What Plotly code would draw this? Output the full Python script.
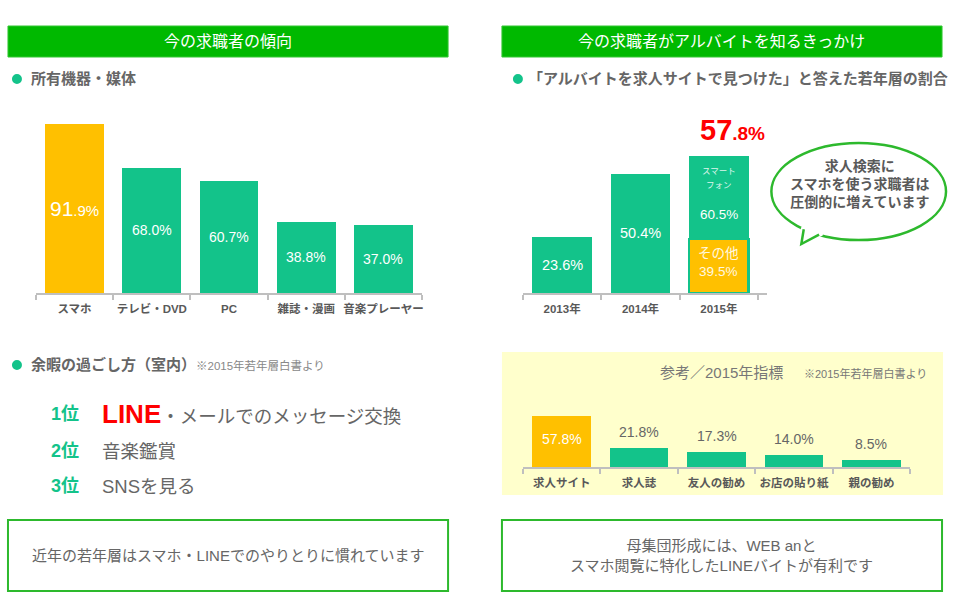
import math
import plotly.graph_objects as go

# ---------------- data ----------------
devices = ["スマホ", "テレビ・DVD", "PC", "雑誌・漫画", "音楽プレーヤー"]
device_pct = [91.9, 68.0, 60.7, 38.8, 37.0]

years = ["2013年", "2014年", "2015年"]
site_pct = [23.6, 50.4, 57.8]
share_2015_labels = ["スマート<br>フォン", "その他"]
share_2015_pct = [60.5, 39.5]

sources = ["求人サイト", "求人誌", "友人の勧め", "お店の貼り紙", "親の勧め"]
source_pct = [57.8, 21.8, 17.3, 14.0, 8.5]

rank_labels = ["1位", "2位", "3位"]
leisure_items = ["LINE・メールでのメッセージ交換", "音楽鑑賞", "SNSを見る"]
highlight_word = "LINE"

header_texts = ["今の求職者の傾向", "今の求職者がアルバイトを知るきっかけ"]
bubble_text = "求人検索に<br>スマホを使う求職者は<br>圧倒的に増えています"
footer_texts = ["近年の若年層はスマホ・LINEでのやりとりに慣れています",
                "母集団形成には、WEB anと<br>スマホ閲覧に特化したLINEバイトが有利です"]
source_note = "※2015年若年層白書より"

# ---------------- style ----------------
FONT = "Liberation Sans, Arial, Noto Sans CJK JP, sans-serif"
GREEN = "#13C38A"
ORANGE = "#FFC000"
HEAD = "#00B900"
BOX = "#2DB92D"
GRAY = "#666666"
DARK = "#595959"
AXIS = "#BFBFBF"


def X(p):
    return p / 960


def Y(p):
    return 1 - p / 600


fig = go.Figure()

# chart 1: owned devices
dev_colors = [ORANGE] + [GREEN] * (len(devices) - 1)
fig.add_trace(go.Bar(x=devices, y=device_pct, marker=dict(color=dev_colors, line=dict(width=0)),
                     xaxis="x", yaxis="y", showlegend=False, hoverinfo="x+y"))

# chart 2: found job on job site (stacked for 2015)
other_val = site_pct[2] * share_2015_pct[1] / 100
smart_val = site_pct[2] * share_2015_pct[0] / 100
fig.add_trace(go.Bar(x=[years[2]], y=[other_val], marker=dict(color=ORANGE, line=dict(color=GREEN, width=2.5)),
                     xaxis="x2", yaxis="y2", showlegend=False))
fig.add_trace(go.Bar(x=years, y=site_pct[:2] + [smart_val], marker=dict(color=GREEN, line=dict(width=0)),
                     xaxis="x2", yaxis="y2", showlegend=False))

# chart 3: 2015 reference
src_colors = [ORANGE] + [GREEN] * (len(sources) - 1)
fig.add_trace(go.Bar(x=sources, y=source_pct, marker=dict(color=src_colors, line=dict(width=0)),
                     xaxis="x3", yaxis="y3", showlegend=False))

cat_axis = dict(type="category", showline=True, linecolor=AXIS, linewidth=1.5, ticks="outside",
                tickson="boundaries", ticklen=5, tickcolor=AXIS, tickwidth=1.5, showgrid=False,
                tickangle=0, categoryorder="array", ticklabelstandoff=4,
                tickfont=dict(family=FONT, size=11.5, color=DARK, weight="bold"), fixedrange=True)
val_axis = dict(visible=False, showgrid=False, zeroline=False, fixedrange=True)

fig.update_layout(
    width=960, height=600, autosize=False,
    margin=dict(l=0, r=0, t=0, b=0, pad=0),
    paper_bgcolor="white", plot_bgcolor="rgba(0,0,0,0)",
    barmode="stack", bargap=0.24,
    font=dict(family=FONT, color=DARK),
    xaxis=dict(cat_axis, domain=[X(36), X(423)], anchor="y", categoryarray=devices),
    yaxis=dict(val_axis, domain=[Y(293), Y(109.1)], range=[0, 100], anchor="x"),
    xaxis2=dict(cat_axis, domain=[X(524), X(769)], anchor="y2", categoryarray=years),
    yaxis2=dict(val_axis, domain=[Y(293), Y(143)], range=[0, 63.5], anchor="x2"),
    xaxis3=dict(cat_axis, domain=[X(524), X(912)], anchor="y3", categoryarray=sources),
    yaxis3=dict(val_axis, domain=[Y(467), Y(405.4)], range=[0, 70], anchor="x3"),
)

shapes = []
ann = []


def note(x, y, text, size, color, xanchor="center", weight="normal", **kw):
    d = dict(xref="paper", yref="paper", x=X(x), y=Y(y), text=text, showarrow=False,
             xanchor=xanchor, yanchor="middle",
             font=dict(size=size, color=color, family=FONT, weight=weight))
    d.update(kw)
    return d


def dnote(xref, yref, x, y, text, size, color, **kw):
    d = dict(xref=xref, yref=yref, x=x, y=y, text=text, showarrow=False,
             xanchor="center", yanchor="middle", font=dict(size=size, color=color, family=FONT))
    d.update(kw)
    return d


# yellow panel
shapes.append(dict(type="rect", xref="paper", yref="paper", x0=X(503), x1=X(945), y0=Y(495), y1=Y(352),
                   fillcolor="#FFFFCC", line=dict(width=0), layer="below"))
# headers
for i, (x0, x1) in enumerate([(8, 449), (503, 944)]):
    shapes.append(dict(type="rect", xref="paper", yref="paper", x0=X(x0), x1=X(x1), y0=Y(57), y1=Y(26),
                       fillcolor=HEAD, line=dict(color="#33C733", width=1)))
    ann.append(note((x0 + x1) / 2, 41.5, header_texts[i], 16, "white"))
# footer boxes
for i, (x0, x1) in enumerate([(8, 449), (503, 944)]):
    shapes.append(dict(type="rect", xref="paper", yref="paper", x0=X(x0), x1=X(x1), y0=Y(591), y1=Y(520),
                       fillcolor="white", line=dict(color=BOX, width=2)))
    ann.append(note((x0 + x1) / 2, 555, footer_texts[i], 15, GRAY))

# dots + subtitles
for (cx_, cy_) in [(17, 79), (519, 79), (17, 365)]:
    shapes.append(dict(type="circle", xref="paper", yref="paper", x0=X(cx_ - 5), x1=X(cx_ + 5),
                       y0=Y(cy_ + 5), y1=Y(cy_ - 5), fillcolor=GREEN, line=dict(width=0)))
ann.append(note(29, 79, "所有機器・媒体", 15, GRAY, xanchor="left", weight="bold"))
ann.append(note(527, 79, "「アルバイトを求人サイトで見つけた」と答えた若年層の割合", 15, GRAY,
                xanchor="left", weight="bold"))
ann.append(note(29, 365, "<b>余暇の過ごし方（室内）</b><span style='font-size:11.5px;color:#888888'>"
                + source_note + "</span>", 15, GRAY, xanchor="left"))

# ranking list
rank_y = [414, 451, 486]
for i, (r, item) in enumerate(zip(rank_labels, leisure_items)):
    ann.append(note(49, rank_y[i], r, 18, GREEN, xanchor="left", weight="bold"))
    if item.startswith(highlight_word):
        txt = ("<span style='color:#FF0000;font-size:26px;font-weight:bold'>" + highlight_word +
               "</span>" + item[len(highlight_word):])
    else:
        txt = item
    ann.append(note(100, rank_y[i], txt, 18.5, GRAY, xanchor="left"))

# chart 1 value labels
for i, (c, v) in enumerate(zip(devices, device_pct)):
    s = f"{v:.1f}"
    if i == 0:
        whole, frac = s.split(".")
        txt = whole + "<span style='font-size:15px'>." + frac + "%</span>"
        size = 21
    else:
        txt = s + "%"
        size = 14
    ann.append(dnote("x", "y", c, v / 2, txt, size, "white"))

# chart 2 value labels
for c, v in zip(years[:2], site_pct[:2]):
    ann.append(dnote("x2", "y2", c, v / 2, f"{v:.1f}%", 14.5, "white"))
ann.append(dnote("x2", "y2", years[2], site_pct[2], "スマート", 8.5, "#DDF5EC", yshift=-15))
ann.append(dnote("x2", "y2", years[2], site_pct[2], "フォン", 8.5, "#DDF5EC", yshift=-29))
ann.append(dnote("x2", "y2", years[2], other_val + smart_val * 0.3, f"{share_2015_pct[0]:.1f}%", 13.5, "white"))
ann.append(dnote("x2", "y2", years[2], other_val / 2, share_2015_labels[1] + f"<br>{share_2015_pct[1]:.1f}%",
                 13.5, "#FFF8E0", yshift=4))
whole, frac = f"{site_pct[2]:.1f}".split(".")
ann.append(dnote("x2", "y2", years[2], site_pct[2],
                 "<b>" + whole + "<span style='font-size:19px'>." + frac + "%</span></b>",
                 29, "#FF0000", yshift=26, xshift=14))

# chart 3 labels
for i, (c, v) in enumerate(zip(sources, source_pct)):
    if i == 0:
        ann.append(dnote("x3", "y3", c, v / 2, f"{v:.1f}%", 14, "white", yshift=3))
    else:
        ann.append(dnote("x3", "y3", c, v, f"{v:.1f}%", 14, GRAY, yshift=16))
ann.append(note(723, 372, "参考／2015年指標", 15, "#777777"))
ann.append(note(804, 373, source_note, 11, "#777777", xanchor="left"))

# speech bubble
cx, cy, rx, ry = 860.5, 191.5, 87.5, 48.5
shapes.append(dict(type="circle", xref="paper", yref="paper", x0=X(cx - rx), x1=X(cx + rx),
                   y0=Y(cy + ry), y1=Y(cy - ry), fillcolor="white", line=dict(color=BOX, width=2.5)))
tip = (803, 244)


def ept(deg, shrink=0.0):
    t = math.radians(deg)
    return (cx + (rx - shrink) * math.cos(t), cy + (ry - shrink) * math.sin(t))


def P(pt):
    return f"{X(pt[0])},{Y(pt[1])}"


b1, b2 = ept(129), ept(117)
b1i, b2i, bmi = ept(131, 5), ept(115, 5), ept(123, 5)
shapes.append(dict(type="path", xref="paper", yref="paper",
                   path=f"M {P(ept(131.5))} L {P(tip)} L {P(ept(114.5))} L {P(b2i)} L {P(bmi)} L {P(b1i)} Z",
                   fillcolor="white", line=dict(width=0)))
shapes.append(dict(type="path", xref="paper", yref="paper",
                   path=f"M {P(b1)} L {P(tip)} L {P(b2)}",
                   fillcolor="rgba(0,0,0,0)", line=dict(color=BOX, width=2.5)))
ann.append(note(862, 184, bubble_text, 14, DARK, weight="bold"))

fig.update_layout(shapes=shapes, annotations=ann)
fig.write_html("out.html", config={"responsive": False, "displayModeBar": False},
               post_script="document.body.style.margin='0';document.body.style.overflow='hidden';")
